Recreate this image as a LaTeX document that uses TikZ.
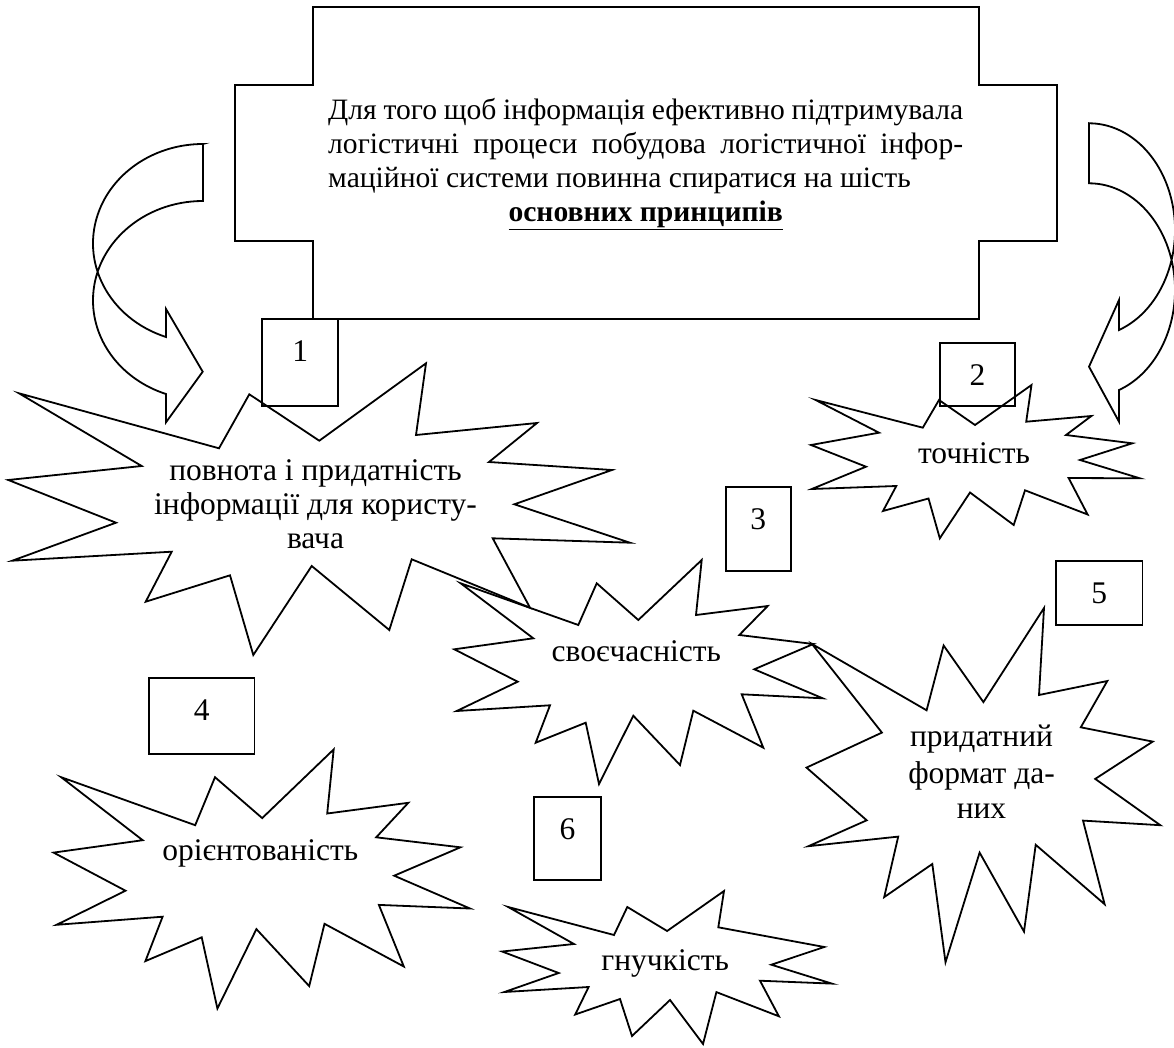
\documentclass[tikz,border=0pt]{standalone}
\usepackage{fontspec}
\setmainfont{Liberation Serif}
\usetikzlibrary{calc}
\newcommand{\diagfont}{\fontsize{31.5}{34}\selectfont}
\newcommand{\headfont}{\fontsize{29.6}{34}\selectfont}
\begin{document}
\begin{tikzpicture}[x=1pt,y=-1pt,
  outline/.style={draw=black, line width=1.8pt, line join=miter, miter limit=10},
  numbox/.style={draw=black, line width=1.8pt},
  lbl/.style={anchor=base, inner sep=0pt, font=\diagfont},
  headline/.style={anchor=base west, inner sep=0pt, font=\headfont}]
\useasboundingbox (0,0) rectangle (1174,1048);

% heading frame (cross-shaped outline)
\draw[outline] (313.3,7.3) -- (979,7.3) -- (979,85) -- (1056.7,85) -- (1056.7,241)
  -- (979,241) -- (979,319) -- (313.3,319) -- (313.3,241) -- (235,241)
  -- (235,85) -- (313.3,85) -- cycle;
\node[headline] (mt1) at (328,120)
  {\makebox[635pt][s]{Для того щоб інформація ефективно підтримувала}};
\node[headline] (mt2) at (328,154)
  {\makebox[635pt][s]{логістичні процеси побудова логістичної інфор-}};
\node[headline] (mt3) at (328,188)
  {\makebox[635pt][l]{маційної системи повинна спиратися на шість}};
\node[headline] (mt4) at (328,222)
  {\makebox[635pt][c]{\textbf{\underline{основних принципів}}}};

% curved arrow on the left
\draw[outline] (203,144) -- (203,201)
  arc[start angle=270, end angle=109.66, x radius=110, y radius=99.4]
  -- (166,422.3) -- (202.7,371.7) -- (166,309) -- (166,337)
  arc[start angle=109.66, end angle=270, x radius=110, y radius=99.4] -- cycle;

% curved arrow on the right
\draw[outline] (1089,123.3) -- (1089,183.3)
  arc[start angle=270, end angle=429.59, x radius=86, y radius=106.7]
  -- (1119,421.7) -- (1089,366.7) -- (1119,300) -- (1119,330)
  arc[start angle=69.59, end angle=-90, x radius=86, y radius=106.7] -- cycle;

% explosion 1
\draw[outline] (19,393.3) -- (219,448.3) -- (249.3,394.3) -- (319.3,440.7) -- (426,363.3)
  -- (416,435) -- (537,423) -- (489,462) -- (612,470) -- (514.3,504.3) -- (630,542.7)
  -- (492.7,538.3) -- (530,607.7) -- (411.7,559.3) -- (389.3,630) -- (311.7,566)
  -- (253.3,655) -- (230,575.3) -- (145.7,601.7) -- (171.7,551.7) -- (12.3,560.7)
  -- (116,522.7) -- (8.3,480) -- (141.7,466) -- cycle;
\node[lbl] (e1a) at (315.5,480) {повнота і придатність};
\node[lbl] (e1b) at (315.5,514) {інформації для користу-};
\node[lbl] (e1c) at (315.5,548) {вача};

% explosion 2
\draw[outline] (815.6,400) -- (922.8,427.7) -- (939,400) -- (975,425) -- (1031.5,385)
  -- (1026.2,421.7) -- (1091.4,416) -- (1066,435) -- (1132.3,443.3) -- (1080,460)
  -- (1139.8,478.3) -- (1068.6,478) -- (1087.6,514.5) -- (1025,490.3) -- (1013.7,525)
  -- (970,492.5) -- (939.8,538.3) -- (928.5,498.5) -- (883,511) -- (896.3,486)
  -- (811.8,489) -- (866,466.7) -- (811,445) -- (879,432.7) -- cycle;
\node[lbl] (e2) at (974,463) {точність};

% explosion 3
\draw[outline] (460.7,583.3) -- (578.3,625) -- (596.7,583.3) -- (638.3,620) -- (701.7,560)
  -- (696,615) -- (767.7,606) -- (739.3,635) -- (813.3,644) -- (754.3,669.3)
  -- (822.7,698.3) -- (741.7,694.3) -- (763.3,747.7) -- (693.3,710.7) -- (680,765)
  -- (633.3,715.7) -- (599,784) -- (585.7,722.7) -- (535.7,742.7) -- (550,705.3)
  -- (456.7,711) -- (517.7,681.7) -- (454.3,649.3) -- (533.3,638.3) -- cycle;
\node[lbl] (e3) at (636.3,661) {своєчасність};

% explosion 4
\draw[outline] (61.2,777.2) -- (195.2,825.2) -- (215,777.2) -- (262.2,818.1) -- (333.7,749.4)
  -- (327.2,813.5) -- (408.3,802.8) -- (376.2,837.3) -- (460.4,847.3) -- (394.2,875.7)
  -- (470,908.5) -- (378.9,904.9) -- (403.8,966.5) -- (324.5,923.8) -- (309.2,986.1)
  -- (256.4,929.1) -- (217.4,1008.5) -- (201.7,937.3) -- (145.4,961.1) -- (162.6,916.7)
  -- (56.6,924.8) -- (125.5,890.7) -- (53.6,852.6) -- (142.7,840.2) -- cycle;
\node[lbl] (e4) at (260.2,860) {орієнтованість};

% explosion 5
\draw[outline] (812,644) -- (926.6,710.3) -- (943.6,645.5) -- (983.4,702.1) -- (1044,608)
  -- (1039,695) -- (1107.3,681) -- (1080.8,727.3) -- (1152.7,741.6) -- (1095.2,778.9)
  -- (1160.3,825.2) -- (1083,820.6) -- (1104.6,904.2) -- (1035.7,844.8) -- (1024,931.6)
  -- (979.6,852.6) -- (945.5,962.2) -- (932.3,864) -- (884.2,897.1) -- (898.2,836.6)
  -- (808.4,846.2) -- (866.7,820.3) -- (806.5,767.6) -- (881.9,732.6) -- cycle;
\node[lbl] (e5a) at (981.5,746) {придатний};
\node[lbl] (e5b) at (981.5,783) {формат да-};
\node[lbl] (e5c) at (981.5,818) {них};

% explosion 6
\draw[outline] (703,1044) -- (670,1000) -- (632,1036) -- (620,999) -- (575.2,1014.5)
  -- (588.6,987) -- (504.4,992) -- (558.7,973) -- (502.1,951.5) -- (574,944)
  -- (508.2,907) -- (614,935) -- (627.3,907) -- (667.1,931) -- (724,891)
  -- (718.3,927.3) -- (824.3,947) -- (771.3,964.7) -- (831.9,983.6) -- (760,980.7)
  -- (778.9,1016.3) -- (716.4,992.1) -- cycle;
\node[lbl] (e6) at (665.2,970) {гнучкість};

% numbered boxes: frame corners, then the digit set 42pt below the top edge
\coordinate (b1tl) at (262.3,319);    \coordinate (b1br) at (338.3,406);
\coordinate (b2tl) at (940,343.3);    \coordinate (b2br) at (1015,406);
\coordinate (b3tl) at (726,487.3);    \coordinate (b3br) at (790.7,570.7);
\coordinate (b4tl) at (149,678);      \coordinate (b4br) at (254.5,753.7);
\coordinate (b5tl) at (1056,561);     \coordinate (b5br) at (1142.5,625);
\coordinate (b6tl) at (534,797);      \coordinate (b6br) at (600.8,880);
\foreach \i/\d in {1/1,2/2,3/3,4/4,5/5,6/6}{
  \draw[numbox] (b\i tl) rectangle (b\i br);
  \node[lbl] (n\i) at ($(b\i tl)!0.5!(b\i br |- b\i tl)+(0,42.5)$) {\d};
}
\end{tikzpicture}
\end{document}
